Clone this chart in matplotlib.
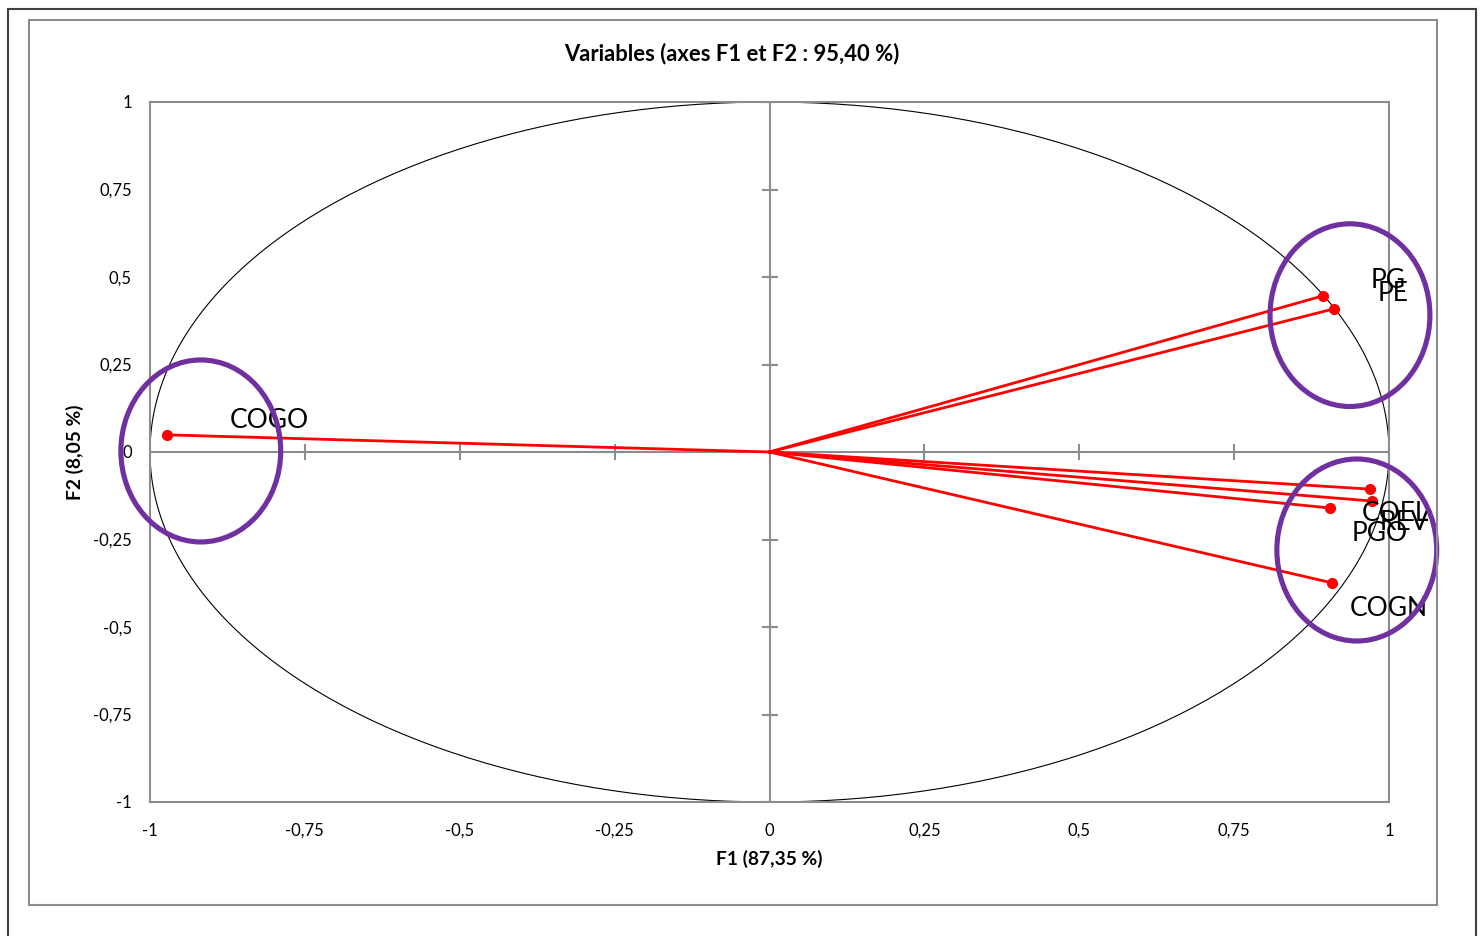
import numpy as np
import matplotlib.pyplot as plt
from matplotlib.patches import Ellipse, Rectangle

plt.rcParams['font.family'] = ['Lato', 'DejaVu Sans']

# --- Data ---
variables = ['PG', 'PE', 'COGO', 'COEL', 'REV', 'PGO', 'COGN']
f1 = [0.893, 0.911, -0.973, 0.969, 0.972, 0.905, 0.908]
f2 = [0.446, 0.409, 0.049, -0.106, -0.140, -0.160, -0.374]
# label anchor positions (left edge, centre) as placed in the chart
label_x = [0.971, 0.981, -0.871, 0.956, 0.985, 0.940, 0.937]
label_y = [0.490, 0.453, 0.090, -0.176, -0.202, -0.234, -0.448]

ticks = [-1, -0.75, -0.5, -0.25, 0, 0.25, 0.5, 0.75, 1]
tick_labels = ['-1', '-0,75', '-0,5', '-0,25', '0', '0,25', '0,5', '0,75', '1']

# highlight ellipses: centre x, centre y, width, height (data units)
groups_cx = [0.937, 0.948, -0.918]
groups_cy = [0.391, -0.280, 0.003]
groups_w = [0.258, 0.258, 0.258]
groups_h = [0.522, 0.520, 0.520]

title = 'Variables (axes F1 et F2 : 95,40 %)'
xlabel = 'F1 (87,35 %)'
ylabel = 'F2 (8,05 %)'

# --- Figure ---
fig = plt.figure(figsize=(14.83, 9.36), dpi=100)
W, H = 1483, 936

# outer frame and chart area frame
fig.patches.append(Rectangle((8 / W, -0.01), (1476 - 8) / W, (936 - 9) / H + 0.01,
                             transform=fig.transFigure, fill=False,
                             edgecolor='#404040', lw=1.5))
fig.patches.append(Rectangle((29 / W, (936 - 905) / H), (1437 - 29) / W, (905 - 20) / H,
                             transform=fig.transFigure, fill=False,
                             edgecolor='#8c8c8c', lw=1.5))

ax = fig.add_axes([150 / W, (936 - 802) / H, (1389 - 150) / W, (802 - 102) / H])
ax.set_xlim(-1, 1)
ax.set_ylim(-1, 1)

for s in ax.spines.values():
    s.set_color('#8c8c8c')
    s.set_linewidth(1.5)

ax.set_xticks(ticks)
ax.set_xticklabels(tick_labels)
ax.set_yticks(ticks)
ax.set_yticklabels(tick_labels)
ax.tick_params(length=0, labelsize=12, colors='black')
ax.tick_params(axis='x', pad=15)
ax.tick_params(axis='y', pad=13)

# centre axes with cross ticks
gray = '#8c8c8c'
ax.axhline(0, color=gray, lw=1.5, zorder=1)
ax.axvline(0, color=gray, lw=1.5, zorder=1)
ax.plot(ticks, [0] * len(ticks), ls='none', marker='|', ms=11, mew=1.5, color=gray, zorder=1)
ax.plot([0] * len(ticks), ticks, ls='none', marker='_', ms=11, mew=1.5, color=gray, zorder=1)

# correlation circle
theta = np.linspace(0, 2 * np.pi, 400)
ax.plot(np.cos(theta), np.sin(theta), color='black', lw=0.8, zorder=2)

# variable vectors
for x, y in zip(f1, f2):
    ax.plot([0, x], [0, y], color='red', lw=2, zorder=3)
ax.plot(f1, f2, ls='none', marker='o', ms=7, color='red', zorder=4)

for name, lx, ly in zip(variables, label_x, label_y):
    ax.text(lx, ly, name, fontsize=19, ha='left', va='center', zorder=5)

# highlighted groups
for cx, cy, w, h in zip(groups_cx, groups_cy, groups_w, groups_h):
    ax.add_patch(Ellipse((cx, cy), w, h, fill=False, edgecolor='#7030A0',
                         lw=3.7, clip_on=False, zorder=6))

fig.text(732 / W, 1 - 54 / H, title, fontsize=15.8, fontweight='bold',
         ha='center', va='center')
fig.text(769 / W, 1 - 859 / H, xlabel, fontsize=13.8, fontweight='bold',
         ha='center', va='center')
fig.text(75 / W, 1 - 452 / H, ylabel, fontsize=13.8, fontweight='bold',
         ha='center', va='center', rotation=90)

fig.savefig('out.png', dpi=100)
